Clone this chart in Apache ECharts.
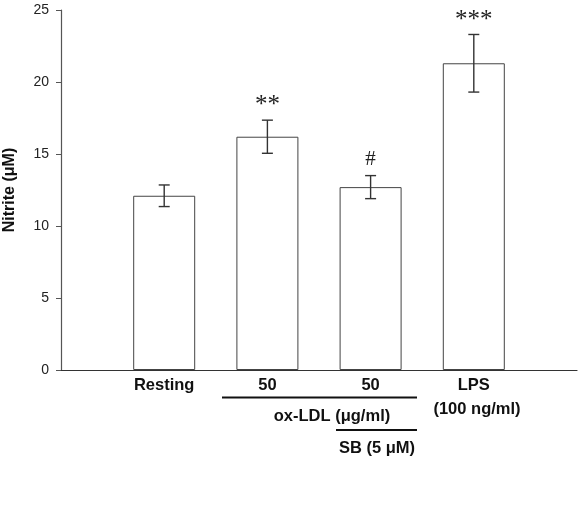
<!DOCTYPE html>
<html>
<head>
<meta charset="utf-8">
<script src="https://cdn.jsdelivr.net/npm/echarts@6/dist/echarts.min.js"></script>
<style>
    html, body { margin: 0; padding: 0; background: #fff; }
    #chart { width: 584px; height: 517px; }
</style>
</head>
<body>
<div id="chart"></div>
<script>
    // data
    var positions = [1, 2, 3, 4];
    var groupLabels = ['Resting', '50', '50', 'LPS'];
    var nitrite = [12.1, 16.2, 12.7, 21.3];
    var errors = [0.75, 1.15, 0.8, 2.0];
    var marks = ['', '**', '#', '***'];
    var yTicks = [0, 5, 10, 15, 20, 25];

    var chart = echarts.init(document.getElementById('chart'));
    var axisColor = '#555';
    var bold = { fontFamily: 'Liberation Sans, Arial', fontWeight: 'bold', fontSize: 16.5, fill: '#111' };

    chart.setOption({
        animation: false,
        grid: { left: 61, right: 7, top: 10, bottom: 147, containLabel: false, outerBoundsMode: 'none' },
        xAxis: {
            type: 'value',
            min: 0,
            max: 5,
            interval: 1,
            splitLine: { show: false },
            axisTick: { show: false },
            axisLine: { lineStyle: { color: '#333', width: 1.2 } },
            axisLabel: {
                margin: 7,
                fontFamily: 'Liberation Sans, Arial',
                fontWeight: 'bold',
                fontSize: 16.5,
                color: '#111',
                formatter: function (v) {
                    var i = positions.indexOf(v);
                    return i < 0 ? '' : groupLabels[i];
                }
            }
        },
        yAxis: {
            type: 'value',
            min: yTicks[0],
            max: yTicks[yTicks.length - 1],
            interval: 5,
            name: 'Nitrite (\u03bcM)',
            nameLocation: 'middle',
            nameGap: 43,
            nameTextStyle: { fontFamily: 'Liberation Sans, Arial', fontWeight: 'bold', fontSize: 16, color: '#111' },
            splitLine: { show: false },
            axisLine: { show: true, lineStyle: { color: axisColor, width: 1.2 } },
            axisTick: { show: true, inside: false, length: 5, lineStyle: { color: axisColor } },
            axisLabel: { fontFamily: 'Liberation Sans, Arial', fontSize: 14, color: '#222', margin: 12 }
        },
        series: [{
            type: 'bar',
            barWidth: 62,
            itemStyle: { color: '#fff', borderColor: '#444', borderWidth: 1 },
            data: positions.map(function (p, i) { return [p, nitrite[i]]; })
        }, {
            type: 'custom',
            data: positions.map(function (p, i) { return [p, nitrite[i], errors[i], i]; }),
            renderItem: function (params, api) {
                var x = api.value(0), y = api.value(1), e = api.value(2), i = api.value(3);
                var hi = api.coord([x, y + e]);
                var lo = api.coord([x, y - e]);
                var cap = 5.5;
                var st = { stroke: '#333', lineWidth: 1.4 };
                var children = [
                    { type: 'line', shape: { x1: hi[0], y1: hi[1], x2: lo[0], y2: lo[1] }, style: st },
                    { type: 'line', shape: { x1: hi[0] - cap, y1: hi[1], x2: hi[0] + cap, y2: hi[1] }, style: st },
                    { type: 'line', shape: { x1: lo[0] - cap, y1: lo[1], x2: lo[0] + cap, y2: lo[1] }, style: st }
                ];
                if (marks[i]) {
                    var isHash = marks[i] === '#';
                    children.push({
                        type: 'text',
                        style: {
                            text: marks[i], x: hi[0], y: hi[1] - (isHash ? 6 : 2),
                            align: 'center', verticalAlign: 'bottom',
                            fontFamily: 'Liberation Serif, Times New Roman',
                            fontSize: isHash ? 21 : 25, fill: '#222'
                        }
                    });
                }
                return { type: 'group', children: children };
            },
            z: 5
        }],
        graphic: [
            { type: 'line', shape: { x1: 222, y1: 397.5, x2: 417, y2: 397.5 }, style: { stroke: '#111', lineWidth: 2 } },
            { type: 'text', style: Object.assign({ text: 'ox-LDL (\u03bcg/ml)', x: 332, y: 416, align: 'center', verticalAlign: 'middle' }, bold) },
            { type: 'text', style: Object.assign({ text: '(100 ng/ml)', x: 477, y: 409, align: 'center', verticalAlign: 'middle' }, bold) },
            { type: 'line', shape: { x1: 336, y1: 430, x2: 417, y2: 430 }, style: { stroke: '#111', lineWidth: 2 } },
            { type: 'text', style: Object.assign({ text: 'SB (5 \u03bcM)', x: 377, y: 448, align: 'center', verticalAlign: 'middle' }, bold) }
        ]
    });
</script>
</body>
</html>
